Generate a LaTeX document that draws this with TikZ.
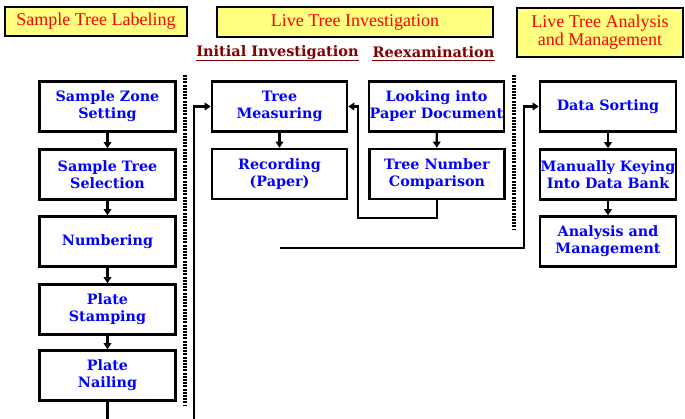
\documentclass[tikz,border=0pt]{standalone}
\usepackage{fontspec}
\setmainfont{Liberation Serif}
\newfontfamily\stepfont{DejaVu Serif}
\usetikzlibrary{arrows.meta}

\definecolor{hdrfill}{RGB}{255,255,128}
\definecolor{hdrtext}{RGB}{255,0,0}
\definecolor{phasetext}{RGB}{128,0,0}
\definecolor{steptext}{RGB}{0,0,255}

\begin{document}
\begin{tikzpicture}[x=1pt,y=-1pt,
  header/.style={draw=black, line width=2pt, fill=hdrfill, text=hdrtext,
    font=\fontsize{18}{18}\selectfont, align=center, inner sep=0},
  phase/.style={text=phasetext, font=\stepfont\bfseries\fontsize{14.5}{16}\selectfont, inner sep=0},
  phaserule/.style={draw=phasetext, line width=1.8pt},
  stepbox/.style={draw=black, line width=2.6pt, fill=white, text=steptext,
    font=\stepfont\bfseries\fontsize{14.3}{17}\selectfont, align=center,
    minimum width=136pt, minimum height=50pt, inner sep=0},
  link/.style={draw=black, line width=2.3pt},
  arr/.style={link, -{Triangle[length=6pt,width=7.5pt]}},
  divider/.style={draw=black, line width=3.5pt, dash pattern=on 2pt off 1.2pt}
]
\useasboundingbox (0,0) rectangle (685,419);
\fill[white] (0,0) rectangle (685,419);
\clip (0,0) rectangle (685,419);

% stage headers
\node[header, minimum width=182pt, minimum height=29pt] (h1) at (96,21.5) {Sample Tree Labeling};
\node[header, minimum width=276pt, minimum height=30pt] (h2) at (355,22) {Live Tree Investigation};
\node[header, minimum width=166pt, minimum height=49pt] (h3) at (600,32.5) {Live Tree Analysis\\and Management};

% sub-phase titles
\node[phase] (ini) at (277.5,52.5) {Initial Investigation};
\node[phase] (reex) at (433.5,52.5) {Reexamination};
\coordinate (ul) at (0,60.5);
\draw[phaserule] (ini.west |- ul) -- (ini.east |- ul);
\draw[phaserule] (reex.west |- ul) -- (reex.east |- ul);

% dotted dividers between stages
\coordinate (d1a) at (185,75);
\coordinate (d1b) at (185,406);
\coordinate (d2a) at (514,75);
\coordinate (d2b) at (514,229);
\draw[divider] (d1a) -- (d1b);
\draw[divider] (d2a) -- (d2b);

% labeling steps
\node[stepbox] (zone)  at (107.5,106.5) {Sample Zone\\Setting};
\node[stepbox] (sel)   at (107.5,174.5) {Sample Tree\\Selection};
\node[stepbox] (num)   at (107.5,241.5) {Numbering};
\node[stepbox] (stamp) at (107.5,309.5) {Plate\\Stamping};
\node[stepbox] (nail)  at (107.5,375.5) {Plate\\Nailing};

% investigation steps
\node[stepbox, minimum width=135pt] (meas) at (279.5,106.5) {Tree\\Measuring};
\node[stepbox, minimum width=135pt] (rec)  at (279.5,174) {Recording\\(Paper)};
\node[stepbox, minimum width=135pt] (look) at (436.5,106.5) {Looking into\\Paper Document};
\node[stepbox, minimum width=135pt] (tnc)  at (437,174) {Tree Number\\Comparison};

% analysis steps
\node[stepbox] (ds) at (608,106.5) {Data Sorting};
\node[stepbox] (mk) at (608,174.5) {Manually Keying\\Into Data Bank};
\node[stepbox] (am) at (608,241.5) {Analysis and\\Management};

% flow inside each stage
\draw[arr] (zone) -- (sel);
\draw[arr] (sel) -- (num);
\draw[arr] (num) -- (stamp);
\draw[arr] (stamp) -- (nail);
\draw[arr] (meas) -- (rec);
\draw[arr] (look) -- (tnc);
\draw[arr] (ds) -- (mk);
\draw[arr] (mk) -- (am);

% labeling feeds the investigation
\coordinate (feedL) at (194,440);
\draw[arr] (nail.south) |- (feedL) |- (meas.west);

% reexamination loops back to measuring
\coordinate (loopR) at (358,218);
\draw[arr] (tnc.south) |- (loopR) |- (meas.east);

% investigation results feed the analysis
\coordinate (feedR) at (280,248);
\coordinate (feedRc) at (524,248);
\draw[arr] (feedR) -- (feedRc) |- (ds.west);
\end{tikzpicture}
\end{document}
